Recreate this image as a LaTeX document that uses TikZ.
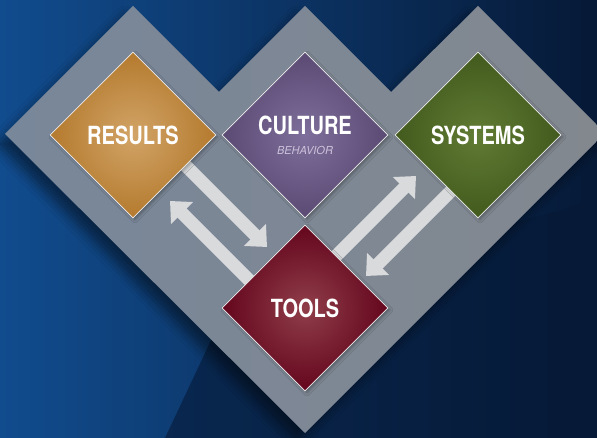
\documentclass[tikz,border=0pt]{standalone}
\usepackage{fontspec}
\usepackage{tikz}
\usetikzlibrary{arrows.meta,backgrounds,calc,shapes.geometric}
\usetikzlibrary{shadows.blur}
\newfontfamily\boxfont{TeX Gyre Heros}[FakeStretch=0.8]
\newfontfamily\subfont{TeX Gyre Heros}
\definecolor{bgleft}{HTML}{114C8E}
\definecolor{bgright}{HTML}{061936}
\definecolor{grayleft}{HTML}{78879A}
\definecolor{grayright}{HTML}{83888F}
\definecolor{arrowgray}{HTML}{D9DADC}
\definecolor{resultsout}{HTML}{B47A2E}
\definecolor{resultsin}{HTML}{D2A467}
\definecolor{cultureout}{HTML}{5A4A73}
\definecolor{culturein}{HTML}{7E6E9B}
\definecolor{systemsout}{HTML}{425A1D}
\definecolor{systemsin}{HTML}{617C34}
\definecolor{toolsout}{HTML}{64061D}
\definecolor{toolsin}{HTML}{903E4A}
\definecolor{behavior}{HTML}{CBC2DA}

\begin{document}
\begin{tikzpicture}[x=1pt,y=-1pt,
  box/.style={diamond,aspect=1,minimum width=166pt,minimum height=166pt,inner sep=0pt,
    draw=white!85!gray,line width=0.6pt,text=white,align=center,
    font=\boxfont\bfseries\fontsize{25}{26}\selectfont,
    blur shadow={shadow xshift=2pt,shadow yshift=-2pt,shadow opacity=30,shadow blur radius=3pt}},
  flow/.style={draw=arrowgray,line width=13pt,-{Triangle[width=30pt,length=17pt]}}]
\useasboundingbox (0,0) rectangle (597,438);
\clip (0,0) rectangle (597,438);

\node[box,inner color=resultsin,outer color=resultsout] (results) at (133,135) {RESULTS};
\node[box,inner color=culturein,outer color=cultureout] (culture) at (305,135)
  {CULTURE\\[-6pt]{\subfont\mdseries\itshape\fontsize{11}{12}\selectfont\color{behavior}BEHAVIOR}};
\node[box,inner color=systemsin,outer color=systemsout] (systems) at (478,135) {SYSTEMS};
\node[box,inner color=toolsin,outer color=toolsout] (tools) at (305,308) {TOOLS};

\begin{scope}[on background layer]
\fill[left color=bgleft,right color=bgright] (0,0) rectangle (597,438);
\fill[bgright,opacity=0.6] (165,438) -- (230,300) -- (597,200) -- (597,438) -- cycle;
\path[left color=grayleft,right color=grayright,
  blur shadow={shadow xshift=-8pt,shadow yshift=-10pt,shadow opacity=45,shadow blur radius=10pt}]
  (5,134) -- (133,6) -- (219,92) -- (305,6) -- (391,92) -- (478,6) -- (605,133) -- (305,433) -- cycle;
\draw[flow] ($(results)+(40,18)$) -- ($(tools)+(-38,-61)$);
\draw[flow] ($(tools)+(-45,-17)$) -- ($(results)+(37,66)$);
\draw[flow] ($(tools)+(15,-36)$) -- ($(systems)+(-62,41)$);
\draw[flow] ($(systems)+(-12,41)$) -- ($(tools)+(61,-32)$);
\end{scope}
\end{tikzpicture}
\end{document}
